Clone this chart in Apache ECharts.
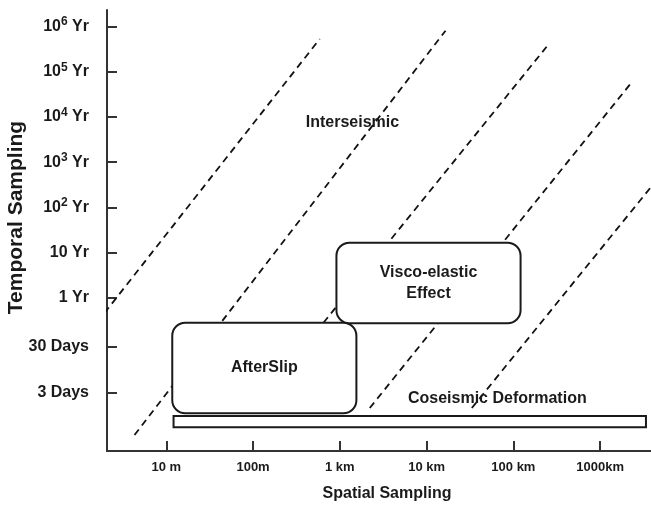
<!DOCTYPE html>
<html><head><meta charset="utf-8">
<script src="https://cdn.jsdelivr.net/npm/echarts@6/dist/echarts.min.js"></script>
<style>html,body{margin:0;padding:0;background:#fff}#c{width:651px;height:505px}</style>
</head><body><div id="c"></div>
<script>
// Spatial axis: log10(metres); temporal axis: log10(years)
const xTickValues = [1, 2, 3, 4, 5, 6];
const xTickLabels = ['10 m', '100m', '1 km', '10 km', '100 km', '1000km'];
const yTickYears = [3 / 365, 30 / 365, 1, 10, 100, 1000, 10000, 100000, 1000000];
const yTickLabels = ['3 Days', '30 Days', '1 Yr', '10 Yr', '10{sup|2} Yr', '10{sup|3} Yr', '10{sup|4} Yr', '10{sup|5} Yr', '10{sup|6} Yr'];

// dashed boundaries: [[log10 m, log10 yr], [log10 m, log10 yr]]
const boundary1 = [[0.288, -0.333], [2.768, 5.724]];
const boundary2 = [[0.634, -3.030], [4.218, 5.907]];
const boundary3 = [[2.464, -1.372], [5.383, 5.553]];
const boundary4 = [[3.345, -2.433], [6.378, 4.802]];
const boundary5 = [[4.521, -2.433], [6.586, 2.452]];

// processes: spatial range (log10 m), temporal range (log10 yr)
const processNames = ['AfterSlip', 'Visco-elastic\nEffect'];
const processSpatial = [[1.069, 3.191], [2.961, 5.083]];
const processTemporal = [[-2.550, -0.547], [-0.561, 1.221]];
const coseismicSpatial = [1.084, 6.528];
const coseismicTemporal = [-2.859, -2.610];

const regionNames = ['Interseismic', 'Coseismic Deformation'];
const regionSpatial = [3.145, 4.815];
const regionTemporal = [3.867, -2.218];

const yTickValues = yTickYears.map(v => Math.log10(v));
const FONT = '"Liberation Sans", Arial, sans-serif';
const INK = '#1a1a1a';
const AXIS = '#333';

const chart = echarts.init(document.getElementById('c'), null, {renderer: 'canvas'});

function boxRenderer(names, radius, lineWidth) {
  return function (params, api) {
    const tl = api.coord([api.value(0), api.value(3)]);
    const br = api.coord([api.value(1), api.value(2)]);
    const children = [{
      type: 'rect',
      shape: {x: tl[0], y: tl[1], width: br[0] - tl[0], height: br[1] - tl[1], r: radius},
      style: {fill: '#fff', stroke: INK, lineWidth: lineWidth}
    }];
    const name = names[params.dataIndex];
    if (name) {
      children.push({
        type: 'text',
        x: (tl[0] + br[0]) / 2, y: (tl[1] + br[1]) / 2,
        style: {text: name, fontSize: 16, fontWeight: 'bold', fontFamily: FONT, fill: INK,
          align: 'center', verticalAlign: 'middle', lineHeight: 21}
      });
    }
    return {type: 'group', children: children};
  };
}

const lineSeries = [boundary1, boundary2, boundary3, boundary4, boundary5].map(pts => ({
  type: 'line', data: pts, symbol: 'none', silent: true, clip: false, z: 2,
  lineStyle: {color: '#111', width: 1.8, type: [7, 5]}
}));

chart.setOption({
  animation: false,
  backgroundColor: '#fff',
  grid: {left: 107, right: 0, top: 10, bottom: 54, containLabel: false, outerBoundsMode: 'none'},
  xAxis: {
    type: 'value', min: 0.317, max: 6.586,
    name: 'Spatial Sampling', nameLocation: 'middle', nameGap: 35, nameMoveOverlap: false,
    nameTextStyle: {fontSize: 16, fontWeight: 'bold', fontFamily: FONT, color: INK, padding: [0, 0, 0, 16]},
    axisLine: {show: true, onZero: false, lineStyle: {color: AXIS, width: 2}},
    axisTick: {show: true, inside: true, length: 10, customValues: xTickValues, lineStyle: {color: AXIS, width: 2}},
    axisLabel: {customValues: xTickValues, margin: 10, fontSize: 13, fontWeight: 'bold', fontFamily: FONT, color: INK,
      formatter: v => { const i = xTickValues.findIndex(t => Math.abs(t - v) < 1e-6); return i < 0 ? '' : xTickLabels[i]; }},
    splitLine: {show: false}
  },
  yAxis: {
    type: 'value', min: -3.383, max: 6.365,
    name: 'Temporal Sampling', nameLocation: 'middle', nameGap: 80, nameRotate: 90, nameMoveOverlap: false,
    nameTextStyle: {fontSize: 21, fontWeight: 'bold', fontFamily: FONT, color: INK, padding: [0, 0, 0, 26]},
    axisLine: {show: true, onZero: false, lineStyle: {color: AXIS, width: 2}},
    axisTick: {show: true, inside: true, length: 10, customValues: yTickValues, lineStyle: {color: AXIS, width: 2}},
    axisLabel: {customValues: yTickValues, margin: 18, fontSize: 16, fontWeight: 'bold', fontFamily: FONT, color: INK,
      formatter: v => { const i = yTickValues.findIndex(t => Math.abs(t - v) < 1e-6); return i < 0 ? '' : yTickLabels[i]; },
      rich: {sup: {fontSize: 12, fontWeight: 'bold', fontFamily: FONT, color: INK, verticalAlign: 'bottom', padding: [0, 0, 9, 0]}}},
    splitLine: {show: false}
  },
  series: lineSeries.concat([
    {
      type: 'custom', z: 5, silent: true, clip: false,
      renderItem: boxRenderer([''], 0, 2),
      data: [[coseismicSpatial[0], coseismicSpatial[1], coseismicTemporal[0], coseismicTemporal[1]]]
    },
    {
      type: 'custom', z: 6, silent: true, clip: false,
      renderItem: boxRenderer(processNames, 13, 2),
      data: processNames.map((n, i) => [processSpatial[i][0], processSpatial[i][1], processTemporal[i][0], processTemporal[i][1]])
    },
    {
      type: 'custom', z: 7, silent: true, clip: false,
      renderItem: function (params, api) {
        const p = api.coord([api.value(0), api.value(1)]);
        return {type: 'text', x: p[0], y: p[1],
          style: {text: regionNames[params.dataIndex], fontSize: 16, fontWeight: 'bold', fontFamily: FONT, fill: INK,
            align: 'center', verticalAlign: 'middle'}};
      },
      data: regionNames.map((n, i) => [regionSpatial[i], regionTemporal[i]])
    }
  ])
});
</script></body></html>
